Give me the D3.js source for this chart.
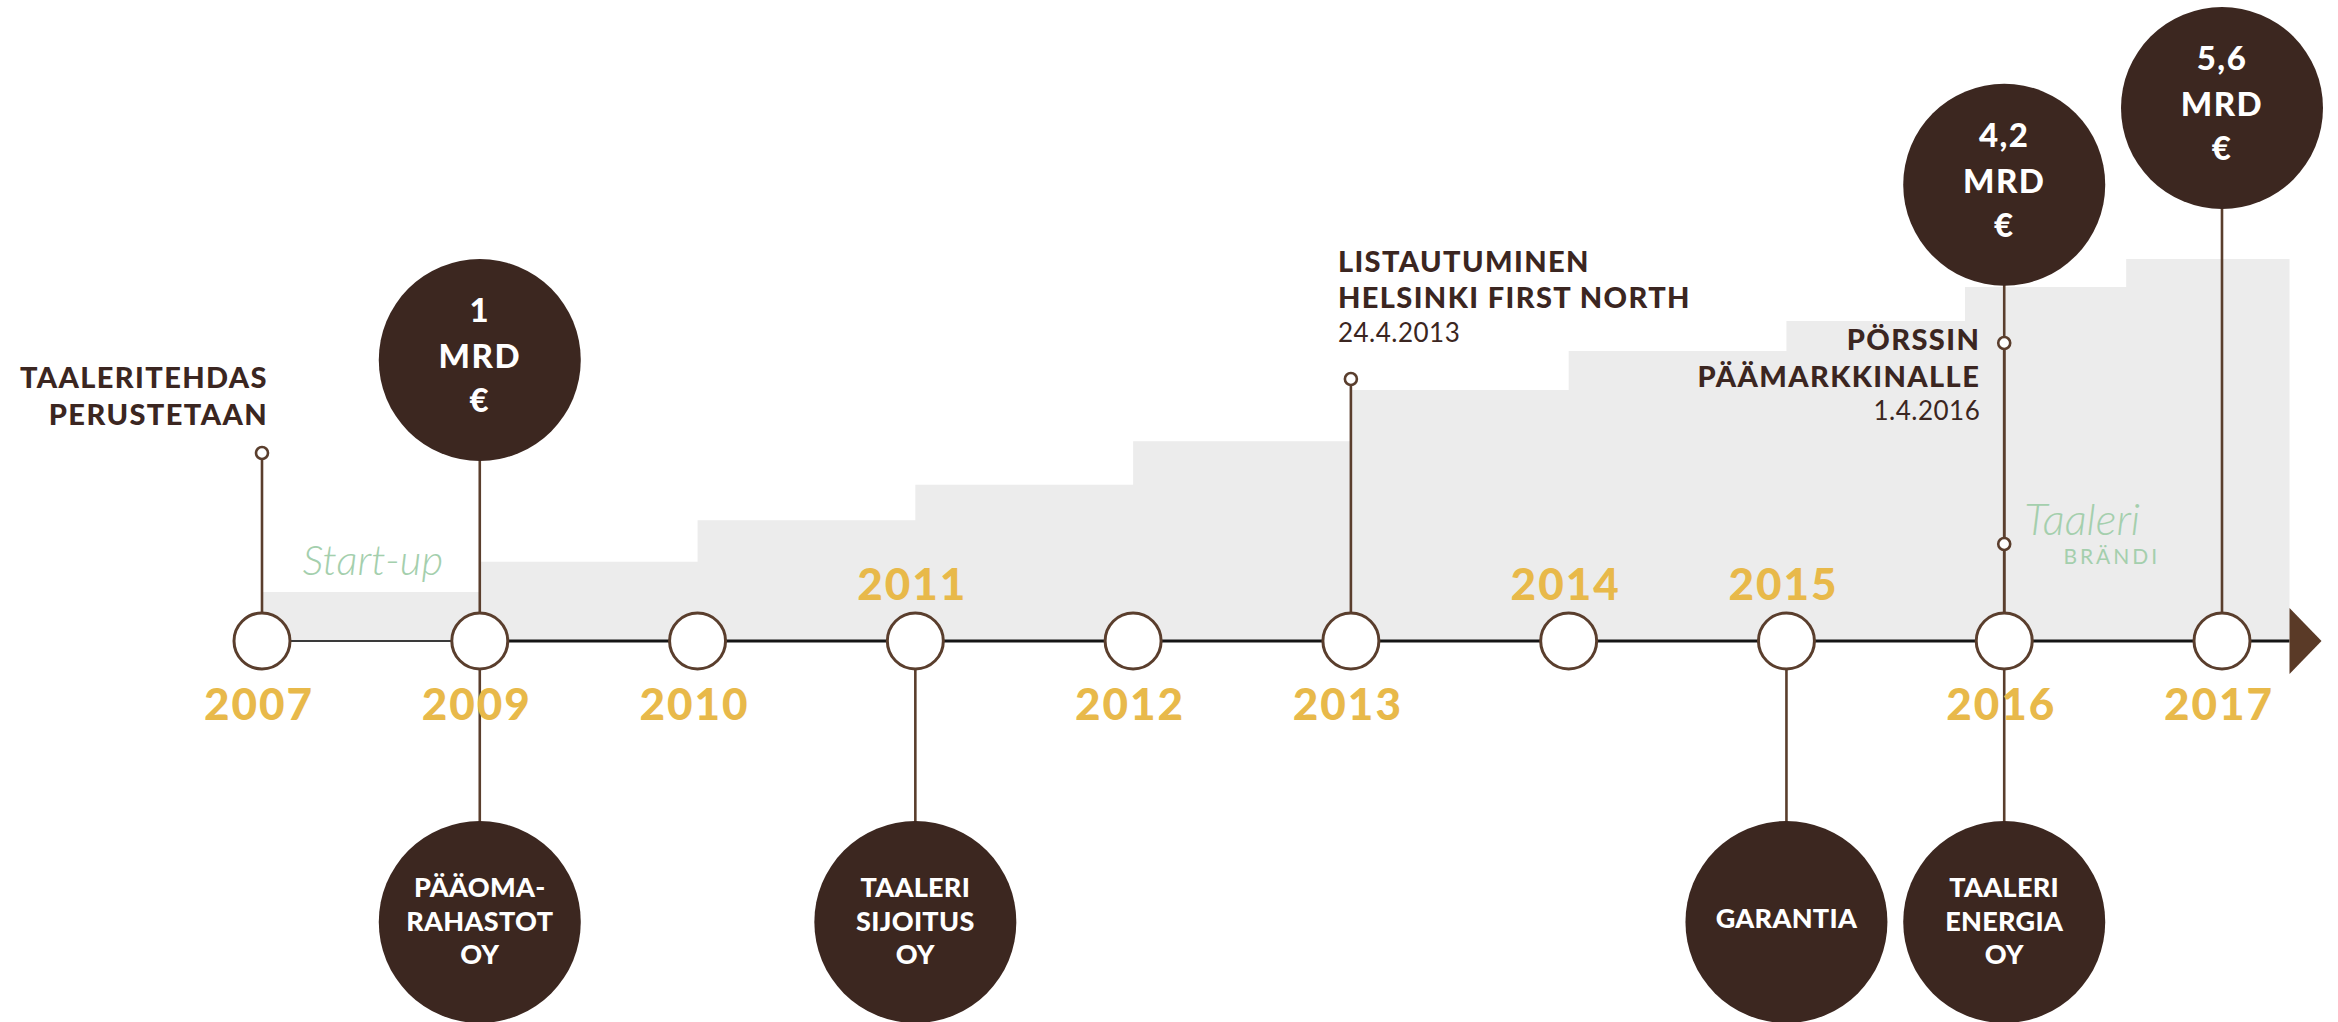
<!DOCTYPE html>
<html>
<head>
<meta charset="utf-8">
<script src="https://cdn.jsdelivr.net/npm/d3@7"></script>
<style>
  html, body { margin: 0; padding: 0; background: #fff; }
  svg { display: block; }
</style>
</head>
<body>
<svg id="chart" width="2338" height="1022"></svg>
<script>
// ---------------- DATA ----------------
const years = ["2007", "2009", "2010", "2011", "2012", "2013", "2014", "2015", "2016", "2017"];
const yearLabelSide = ["below", "below", "below", "above", "below", "below", "above", "above", "below", "below"];

// Grey growth band: period boundaries (in timeline slots) and the level of each period (bn €)
const stepEdges = [0, 1, 2, 3, 4, 5, 6, 7, 7.82, 8.56, 9.31];
const stepValues = [0.72, 1.16, 1.77, 2.29, 2.93, 3.68, 4.25, 4.69, 5.19, 5.6];

// Assets under management bubbles (bn €)
const aumYears = ["2009", "2016", "2017"];
const aumValues = [1, 4.2, 5.6];
const aumLabels = [["1", "MRD", "€"], ["4,2", "MRD", "€"], ["5,6", "MRD", "€"]];

// Companies founded (bubbles below the timeline)
const companyYears = ["2009", "2011", "2015", "2016"];
const companyLabels = [["PÄÄOMA-", "RAHASTOT", "OY"], ["TAALERI", "SIJOITUS", "OY"], ["GARANTIA"], ["TAALERI", "ENERGIA", "OY"]];

// Milestones (pins above the timeline)
const milestoneYears = ["2007", "2013", "2016"];
const milestoneTitles = [["TAALERITEHDAS", "PERUSTETAAN"], ["LISTAUTUMINEN", "HELSINKI FIRST NORTH"], ["PÖRSSIN", "PÄÄMARKKINALLE"]];
const milestoneDates = ["", "24.4.2013", "1.4.2016"];

// Script annotations
const scriptNotes = ["Start-up", "Taaleri"];
const brandNote = "BRÄNDI";

// ---------------- STYLE / LAYOUT ----------------
const C = {
  brown: "#3c2720",
  stem: "#5a3e2d",
  text: "#3b2621",
  yellow: "#e8b94a",
  grey: "#ececec",
  green: "#a4cfad",
  line: "#151515"
};
const axisY = 641;
const nodeR = 28, bubbleR = 101, pinR = 6;
const lowerY = 922;

const svg = d3.select("#chart");

const x = d3.scalePoint().domain(years).range([262, 2222]);
const xi = d3.scaleLinear().domain([0, years.length - 1]).range(x.range());
const yStep = d3.scaleLinear().domain([0, 5.6]).range([axisY, 259]);
const yBubble = d3.scaleLinear().domain([1, 5.6]).range([360, 108]);

// Grey stepped band
const stepPts = stepValues.map((v, i) => ({ e: stepEdges[i], v }));
stepPts.push({ e: stepEdges[stepEdges.length - 1], v: stepValues[stepValues.length - 1] });
const area = d3.area()
  .curve(d3.curveStepAfter)
  .x(d => xi(d.e))
  .y0(axisY)
  .y1(d => yStep(d.v));
svg.append("path").datum(stepPts).attr("d", area).attr("fill", C.grey);

// Timeline line + arrow
const endX = xi(stepEdges[stepEdges.length - 1]);
svg.append("line")
  .attr("x1", x(years[0])).attr("x2", x(years[1]))
  .attr("y1", axisY).attr("y2", axisY)
  .attr("stroke", "#3a3a3a").attr("stroke-width", 2);
svg.append("line")
  .attr("x1", x(years[1])).attr("x2", endX)
  .attr("y1", axisY).attr("y2", axisY)
  .attr("stroke", C.line).attr("stroke-width", 3);
svg.append("path")
  .attr("d", d3.line()([[endX, axisY - 33], [endX + 32, axisY], [endX, axisY + 33]]) + "Z")
  .attr("fill", "#5a3a27");

// Stems
const stems = svg.append("g").attr("stroke", C.stem).attr("stroke-width", 2.6);
aumYears.forEach((yr, i) => {
  stems.append("line").attr("x1", x(yr)).attr("x2", x(yr))
    .attr("y1", yBubble(aumValues[i])).attr("y2", axisY);
});
companyYears.forEach(yr => {
  stems.append("line").attr("x1", x(yr)).attr("x2", x(yr))
    .attr("y1", axisY).attr("y2", lowerY);
});

const milestoneLayout = {
  "2007": { pinY: 453, anchor: "end", dx: 6, dy: [-65, -28], dateDy: 0 },
  "2013": { pinY: 379, anchor: "start", dx: -13, dy: [-107, -71], dateDy: -37 },
  "2016": { pinY: 343, anchor: "end", dx: -24, dy: [7, 44], dateDy: 77 }
};
milestoneYears.forEach(yr => {
  const L = milestoneLayout[yr];
  stems.append("line").attr("x1", x(yr)).attr("x2", x(yr))
    .attr("y1", L.pinY).attr("y2", axisY);
});

// Year nodes
svg.append("g").selectAll("circle").data(years).join("circle")
  .attr("cx", d => x(d)).attr("cy", axisY).attr("r", nodeR)
  .attr("fill", "#fff").attr("stroke", C.stem).attr("stroke-width", 3);

// Year labels
svg.append("g").selectAll("text").data(years).join("text")
  .attr("x", d => x(d) - 3)
  .attr("y", (d, i) => yearLabelSide[i] === "above" ? axisY - 41 : axisY + 79)
  .attr("text-anchor", "middle")
  .attr("font-family", "Lato, sans-serif").attr("font-weight", 900)
  .attr("font-size", 44).attr("letter-spacing", 2)
  .attr("fill", C.yellow)
  .text(d => d);

// Milestone pins + labels
milestoneYears.forEach((yr, i) => {
  const L = milestoneLayout[yr];
  const px = x(yr);
  svg.append("circle").attr("cx", px).attr("cy", L.pinY).attr("r", pinR)
    .attr("fill", "#fff").attr("stroke", C.stem).attr("stroke-width", 2.6);
  const g = svg.append("g").attr("font-family", "Lato, sans-serif").attr("fill", C.text)
    .attr("text-anchor", L.anchor);
  milestoneTitles[i].forEach((t, j) => {
    g.append("text").attr("x", px + L.dx).attr("y", L.pinY + L.dy[j])
      .attr("font-weight", 900).attr("font-size", 29).attr("letter-spacing", 1.4)
      .text(t);
  });
  if (milestoneDates[i]) {
    g.append("text").attr("x", px + L.dx).attr("y", L.pinY + L.dateDy)
      .attr("font-weight", 400).attr("font-size", 26).attr("letter-spacing", 0.5)
      .text(milestoneDates[i]);
  }
});

// Brand pin on the 2016 stem
const brandPinY = 544;
svg.append("circle").attr("cx", x("2016")).attr("cy", brandPinY).attr("r", pinR)
  .attr("fill", "#fff").attr("stroke", C.stem).attr("stroke-width", 2.6);

// Script notes
svg.append("text")
  .attr("x", (xi(stepEdges[0]) + xi(stepEdges[1])) / 2 + 2).attr("y", 575)
  .attr("text-anchor", "middle")
  .attr("font-family", "Lato, sans-serif").attr("font-style", "italic").attr("font-weight", 300)
  .attr("font-size", 42).attr("fill", C.green)
  .text(scriptNotes[0]);
svg.append("text")
  .attr("x", x("2016") + 20).attr("y", brandPinY - 9)
  .attr("font-family", "Lato, sans-serif").attr("font-style", "italic").attr("font-weight", 300)
  .attr("font-size", 44).attr("fill", C.green)
  .text(scriptNotes[1]);
svg.append("text")
  .attr("x", x("2016") + 156).attr("y", brandPinY + 20)
  .attr("text-anchor", "end")
  .attr("font-family", "Lato, sans-serif").attr("font-weight", 400)
  .attr("font-size", 21).attr("letter-spacing", 3).attr("fill", C.green)
  .text(brandNote);

// AUM bubbles (above)
aumYears.forEach((yr, i) => {
  const cx = x(yr), cy = yBubble(aumValues[i]);
  svg.append("circle").attr("cx", cx).attr("cy", cy).attr("r", bubbleR).attr("fill", C.brown);
  const offs = [-38, 8, 52];
  aumLabels[i].forEach((t, j) => {
    svg.append("text").attr("x", cx).attr("y", cy + offs[j])
      .attr("text-anchor", "middle")
      .attr("font-family", "Lato, sans-serif").attr("font-weight", 900)
      .attr("font-size", 33).attr("letter-spacing", 1.5)
      .attr("fill", "#fff").text(t);
  });
});

// Company bubbles (below)
companyYears.forEach((yr, i) => {
  const cx = x(yr);
  svg.append("circle").attr("cx", cx).attr("cy", lowerY).attr("r", bubbleR).attr("fill", C.brown);
  const lines = companyLabels[i];
  const lh = 33.5;
  const first = lines.length === 1 ? 6 : -25;
  lines.forEach((t, j) => {
    svg.append("text").attr("x", cx).attr("y", lowerY + first + j * lh)
      .attr("text-anchor", "middle")
      .attr("font-family", "Lato, sans-serif").attr("font-weight", 900)
      .attr("font-size", 27).attr("letter-spacing", 0.3)
      .attr("fill", "#fff").text(t);
  });
});
</script>
</body>
</html>
